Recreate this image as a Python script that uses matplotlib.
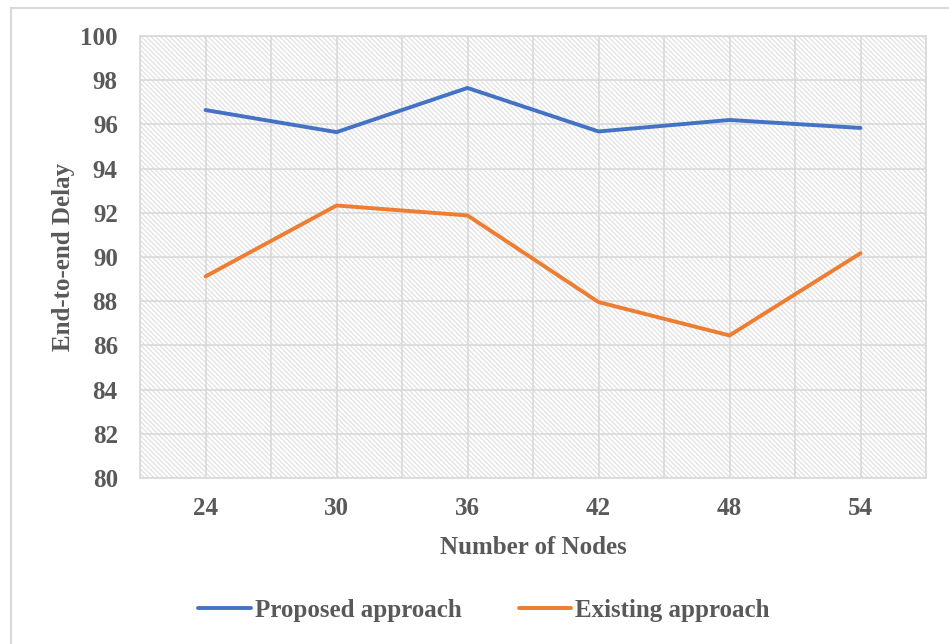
import matplotlib
matplotlib.use("Agg")
import matplotlib.pyplot as plt
from matplotlib.lines import Line2D
import numpy as np

nodes = ["24", "30", "36", "42", "48", "54"]
proposed = [96.65, 95.65, 97.65, 95.68, 96.2, 95.84]
existing = [89.12, 92.33, 91.88, 87.96, 86.45, 90.17]
yticks = [80, 82, 84, 86, 88, 90, 92, 94, 96, 98, 100]

TXT = "#595959"
GRID = "#d9d9d9"
HATCH = "#dcdcdc"
plt.rcParams["font.family"] = ["Liberation Serif", "DejaVu Serif"]
plt.rcParams["font.weight"] = "bold"
plt.rcParams["hatch.linewidth"] = 0.75

W, H = 949, 644
fig = plt.figure(figsize=(W / 100, H / 100), dpi=100)
ax = fig.add_axes([140 / W, 1 - 478 / H, (926 - 140) / W, (478 - 36) / H])

x = np.arange(len(nodes))
ax.set_xlim(-0.5, len(nodes) - 0.5)
ax.set_ylim(80, 100)

# hatched plot background
ax.add_patch(plt.Rectangle((0, 0), 1, 1, transform=ax.transAxes, facecolor="white",
                           edgecolor=HATCH, linewidth=0, hatch="\\" * 7, zorder=0))
# gridlines
for yv in yticks:
    ax.axhline(yv, color=GRID, lw=1.2, zorder=1)
for xv in np.arange(-0.5, len(nodes), 0.5):
    ax.axvline(xv, color=GRID, lw=1.2, zorder=1)

ax.plot(x, proposed, color="#4472C4", lw=2.8, solid_capstyle="round", zorder=3,
        label="Proposed approach")
ax.plot(x, existing, color="#ED7D31", lw=2.8, solid_capstyle="round", zorder=3,
        label="Existing approach")

ax.set_xticks(x)
ax.set_xticklabels(nodes)
ax.set_yticks(yticks)
ax.tick_params(length=0, labelsize=18, colors=TXT)
ax.tick_params(axis="x", pad=14)
ax.tick_params(axis="y", pad=16)
for lab in ax.get_xticklabels() + ax.get_yticklabels():
    lab.set_fontweight("bold")
for s in ax.spines.values():
    s.set_color(GRID)
    s.set_linewidth(1.2)

ax.set_xlabel("Number of Nodes", fontsize=18, fontweight="bold", color=TXT, labelpad=11)
ax.set_ylabel("End-to-end Delay", fontsize=18, fontweight="bold", color=TXT, labelpad=4)

fig.legend(loc="center", bbox_to_anchor=(484 / W, 1 - 610 / H), ncol=2, frameon=False,
           prop={"size": 18, "weight": "bold"}, labelcolor=TXT, handlelength=2.1,
           handletextpad=0.16, columnspacing=2.3)

# chart frame
fig.add_artist(Line2D([11 / W, 1], [1 - 8 / H, 1 - 8 / H], transform=fig.transFigure,
                      color=GRID, lw=1.5))
fig.add_artist(Line2D([11 / W, 11 / W], [0, 1 - 8 / H], transform=fig.transFigure,
                      color=GRID, lw=1.5))

fig.savefig("out.png", dpi=100)
